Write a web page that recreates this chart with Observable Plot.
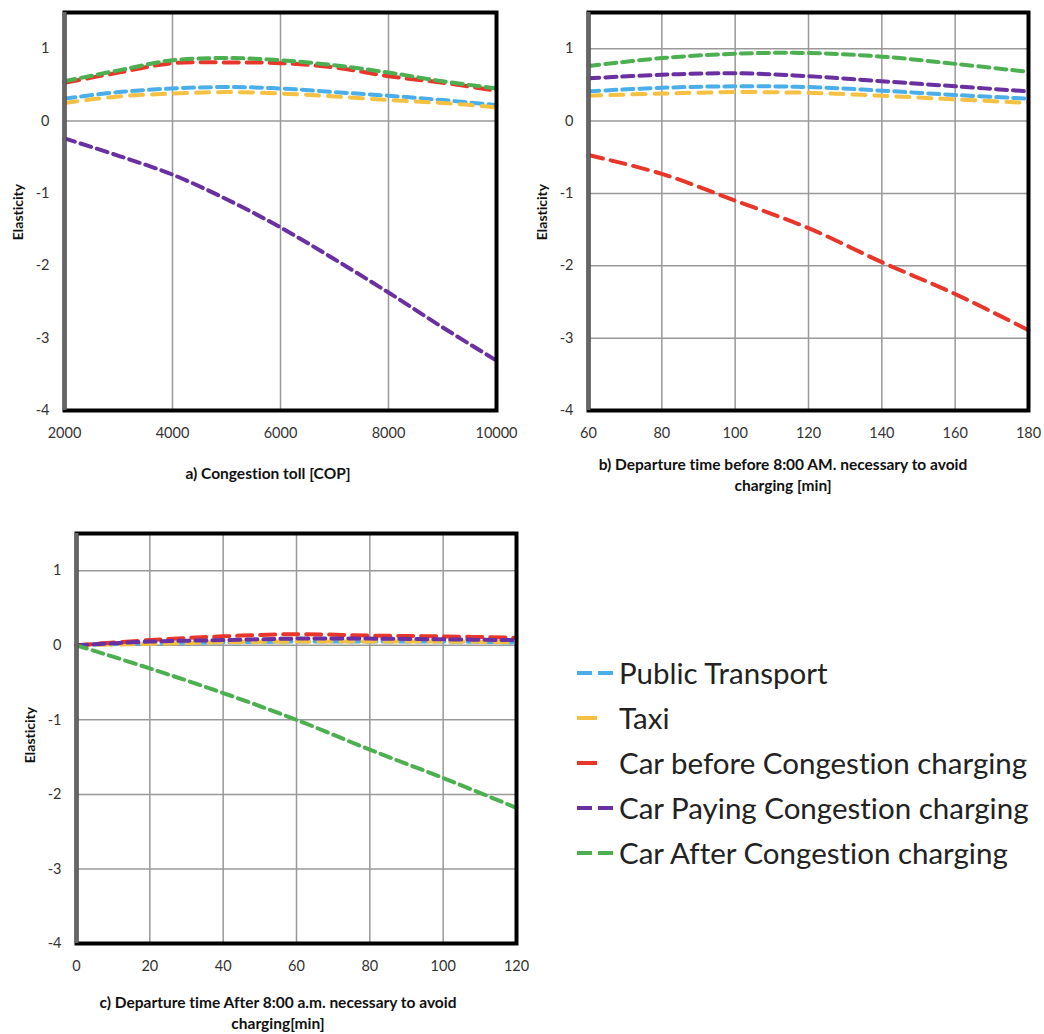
<!DOCTYPE html>
<html>
<head>
<meta charset="utf-8">
<script src="https://cdn.jsdelivr.net/npm/d3@7"></script>
<script src="https://cdn.jsdelivr.net/npm/@observablehq/plot@0.6"></script>
<style>
  body { margin: 0; background: #fff; }
  #root { position: relative; width: 1044px; height: 1034px; font-family: Lato, "Open Sans", sans-serif; font-variant-ligatures: none; color: #222; overflow: hidden; }
  .panel { position: absolute; }
  .xlab { position: absolute; width: 480px; font-weight: bold; font-size: 15.5px; line-height: 21px; text-align: center; color: #111; }
  .ylab { position: absolute; width: 100px; height: 20px; line-height: 20px; font-weight: bold; font-size: 14px; text-align: center; transform: rotate(-90deg); color: #111; }
  #legend { position: absolute; left: 575px; top: 650px; }
  .lrow { display: flex; align-items: center; height: 45px; font-size: 29.5px; color: #222; }
  .lrow svg { width: 44px; height: 12px; flex: none; }
</style>
</head>
<body>
<div id="root"></div>
<script>
// ---------- data ----------
const seriesNames = ["Public Transport", "Taxi", "Car before Congestion charging", "Car Paying Congestion charging", "Car After Congestion charging"];
const seriesColors = ["#4aaeea", "#f4c142", "#e8362a", "#6a2fa0", "#4caf50"];
const yTicks = [-4, -3, -2, -1, 0, 1];

// a) Congestion toll [COP]
const tollX = [2000, 3000, 4000, 5000, 6000, 7000, 8000, 9000, 10000];
const tollPublic    = [0.31, 0.40, 0.45, 0.47, 0.45, 0.40, 0.35, 0.29, 0.22];
const tollTaxi      = [0.25, 0.34, 0.38, 0.40, 0.38, 0.34, 0.29, 0.25, 0.19];
const tollCarBefore = [0.53, 0.67, 0.80, 0.81, 0.80, 0.74, 0.62, 0.53, 0.42];
const tollCarPaying = [-0.24, -0.48, -0.74, -1.08, -1.47, -1.91, -2.37, -2.85, -3.31];
const tollCarAfter  = [0.55, 0.70, 0.84, 0.87, 0.84, 0.77, 0.67, 0.55, 0.45];
const tollTicks = [2000, 4000, 6000, 8000, 10000];

// b) Departure time before 8:00 AM [min]
const beforeX = [60, 80, 100, 120, 140, 160, 180];
const beforePublic    = [0.41, 0.46, 0.48, 0.47, 0.42, 0.36, 0.31];
const beforeTaxi      = [0.35, 0.38, 0.40, 0.39, 0.35, 0.30, 0.25];
const beforeCarBefore = [-0.47, -0.73, -1.10, -1.48, -1.95, -2.39, -2.89];
const beforeCarPaying = [0.59, 0.64, 0.66, 0.62, 0.55, 0.48, 0.41];
const beforeCarAfter  = [0.76, 0.87, 0.93, 0.94, 0.89, 0.79, 0.68];
const beforeTicks = [60, 80, 100, 120, 140, 160, 180];

// c) Departure time after 8:00 a.m. [min]
const afterX = [0, 20, 40, 60, 80, 100, 120];
const afterPublic    = [0, 0.03, 0.04, 0.05, 0.05, 0.05, 0.04];
const afterTaxi      = [0, 0.02, 0.04, 0.05, 0.05, 0.05, 0.04];
const afterCarBefore = [0, 0.07, 0.12, 0.15, 0.13, 0.12, 0.10];
const afterCarPaying = [0, 0.05, 0.07, 0.09, 0.09, 0.08, 0.07];
const afterCarAfter  = [0, -0.31, -0.64, -1.00, -1.40, -1.78, -2.18];
const afterTicks = [0, 20, 40, 60, 80, 100, 120];

// ---------- styles ----------
const dashes = ["11,6", "13,9", "15,8", "11,6", "11,6"];

const root = document.getElementById("root");

function makePanel({xs, series, xTicks, gridXVals, gridYVals, left, top, width, height, margin}) {
  const rows = series.flatMap((vals, i) => xs.map((xv, j) => ({x: xv, y: vals[j], s: seriesNames[i]})));
  const xDomain = [xs[0], xs[xs.length - 1]];
  const marks = [
    Plot.gridX(gridXVals, {stroke: "#999", strokeOpacity: 1, strokeWidth: 1.5}),
    Plot.gridY(gridYVals, {stroke: "#999", strokeOpacity: 1, strokeWidth: 1.5}),
    ...seriesNames.map((name, i) =>
      Plot.line(rows.filter(d => d.s === name), {
        x: "x", y: "y", stroke: seriesColors[i], strokeWidth: 4,
        strokeDasharray: dashes[i], curve: "catmull-rom"
      })
    ),
    Plot.frame({stroke: "black", strokeWidth: 4}),
    Plot.ruleX([xDomain[0]], {stroke: "#666", strokeWidth: 4}),
    Plot.axisX(xTicks, {tickSize: 0, tickPadding: 17, tickFormat: d => String(d), label: null, fontSize: 14.5, fill: "#333"}),
    Plot.axisY(yTicks, {tickSize: 0, tickPadding: 15, tickFormat: d => String(d), label: null, fontSize: 14.5, fill: "#333"})
  ];
  const chart = Plot.plot({
    width, height,
    marginLeft: margin[0], marginRight: margin[1], marginTop: margin[2], marginBottom: margin[3],
    x: {domain: xDomain},
    y: {domain: [-4, 1.5]},
    style: {fontFamily: "Lato, 'Open Sans', sans-serif", fontSize: "14px", background: "white", overflow: "visible"},
    marks
  });
  chart.classList.add("panel");
  chart.style.left = left + "px";
  chart.style.top = top + "px";
  root.appendChild(chart);
}

makePanel({
  xs: tollX,
  series: [tollPublic, tollTaxi, tollCarBefore, tollCarPaying, tollCarAfter],
  xTicks: tollTicks, gridXVals: [4000, 6000, 8000], gridYVals: [0],
  left: 0, top: 0, width: 520, height: 500, margin: [64, 24, 12, 90]
});
makePanel({
  xs: beforeX,
  series: [beforePublic, beforeTaxi, beforeCarBefore, beforeCarPaying, beforeCarAfter],
  xTicks: beforeTicks, gridXVals: [80, 100, 120, 140, 160], gridYVals: [-3, -2, -1, 0, 1],
  left: 520, top: 0, width: 524, height: 500, margin: [68, 16, 12, 90]
});
makePanel({
  xs: afterX,
  series: [afterPublic, afterTaxi, afterCarBefore, afterCarPaying, afterCarAfter],
  xTicks: afterTicks, gridXVals: [20, 40, 60, 80, 100], gridYVals: [-3, -2, -1, 0, 1],
  left: 0, top: 500, width: 540, height: 500, margin: [76, 24, 33, 57]
});

// ---------- axis titles ----------
function addDiv(cls, html, css) {
  const d = document.createElement("div");
  d.className = cls;
  d.innerHTML = html;
  Object.assign(d.style, css);
  root.appendChild(d);
}
addDiv("xlab", "a) Congestion toll [COP]", {left: (268 - 240) + "px", top: "463px"});
addDiv("xlab", "b) Departure time before 8:00 AM. necessary to avoid<br>charging [min]", {left: (783 - 240) + "px", top: "454px"});
addDiv("xlab", "c) Departure time After 8:00 a.m. necessary to avoid<br>charging[min]", {left: (278 - 240) + "px", top: "992px"});
addDiv("ylab", "Elasticity", {left: (18 - 50) + "px", top: (212 - 10) + "px"});
addDiv("ylab", "Elasticity", {left: (542 - 50) + "px", top: (212 - 10) + "px"});
addDiv("ylab", "Elasticity", {left: (30 - 50) + "px", top: (735 - 10) + "px"});

// ---------- legend ----------
const legendDash = [true, false, false, true, true];
const legend = document.createElement("div");
legend.id = "legend";
seriesNames.forEach((name, i) => {
  const row = document.createElement("div");
  row.className = "lrow";
  const len = legendDash[i] ? 36 : 20;
  row.innerHTML = `<svg viewBox="0 0 44 12"><line x1="2" y1="6" x2="${2 + len}" y2="6" stroke="${seriesColors[i]}" stroke-width="4" stroke-dasharray="${legendDash[i] ? '15,6' : 'none'}"/></svg><span>${name}</span>`;
  legend.appendChild(row);
});
root.appendChild(legend);
</script>
</body>
</html>
